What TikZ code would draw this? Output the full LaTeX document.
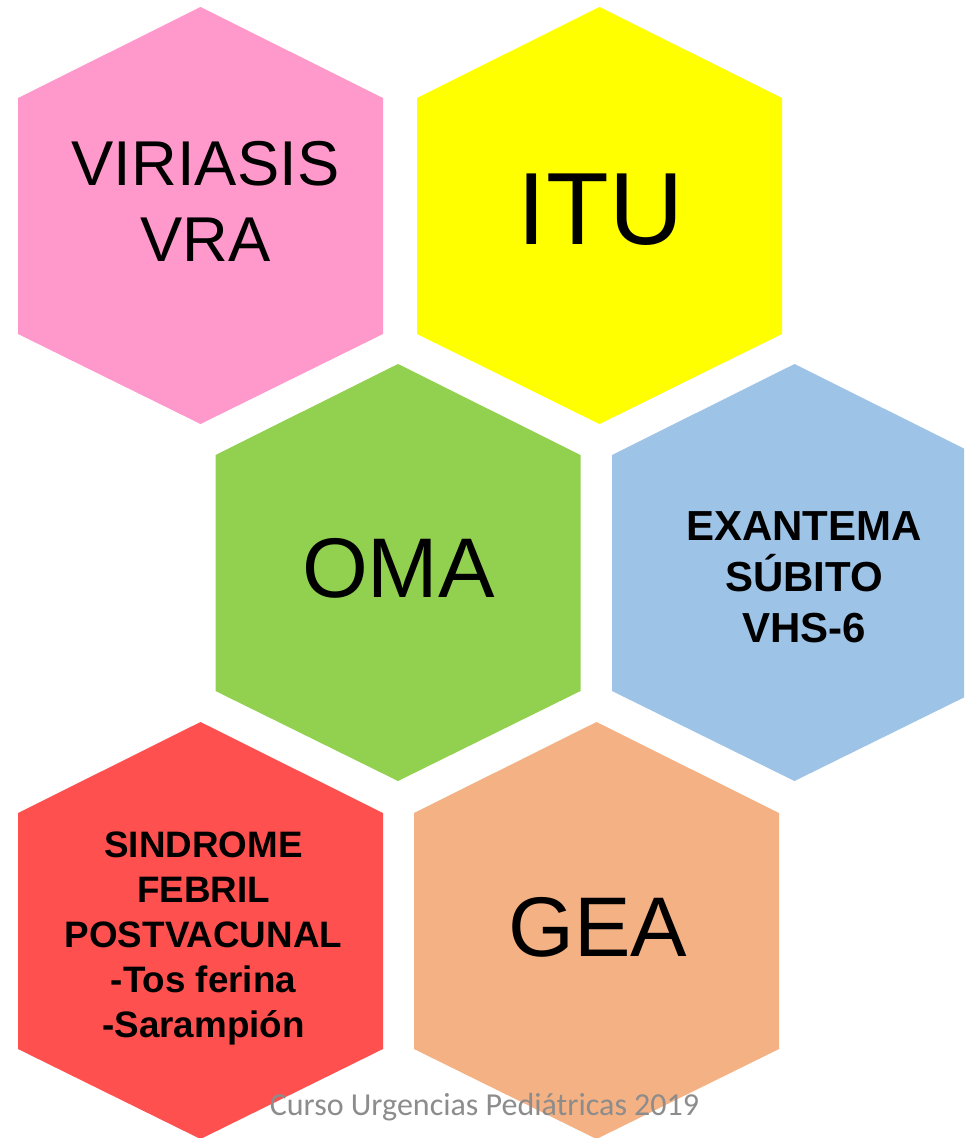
\documentclass[tikz,border=0pt]{standalone}
\usepackage{fontspec}
\setmainfont{Liberation Sans}
\newfontfamily\footfont{Carlito}
\usepackage{xcolor}
\usepackage{tikz}

\definecolor{hexpink}{HTML}{FF99CC}
\definecolor{hexyellow}{HTML}{FFFF00}
\definecolor{hexgreen}{HTML}{92D050}
\definecolor{hexblue}{HTML}{9DC3E6}
\definecolor{hexred}{HTML}{FF5050}
\definecolor{hexorange}{HTML}{F4B183}
\definecolor{footgray}{HTML}{8C8C8C}

\begin{document}
\begin{tikzpicture}[x=0.75pt, y=-0.75pt,
    hexlabel/.style={align=center, inner sep=0pt, text=black},
    plainbig/.style={hexlabel, font=\fontsize{63.5pt}{63.5pt}\selectfont}]
    \useasboundingbox (0,0) rectangle (964,1138);
    \clip (0,0) rectangle (964,1138);

    % Row 1
    \fill[hexpink] (200.5,7) -- (383,98) -- (383,334) -- (200.5,424) -- (18,334) -- (18,98) -- cycle;
    \fill[hexyellow] (599.5,7) -- (782,98) -- (782,334) -- (599.5,424) -- (417,334) -- (417,98) -- cycle;

    % Row 2
    \fill[hexgreen] (398,364) -- (580.5,455) -- (580.5,691) -- (398,781) -- (215.5,691) -- (215.5,455) -- cycle;
    \fill[hexblue] (794.5,364) -- (977,455) -- (977,691) -- (794.5,781) -- (612,691) -- (612,455) -- cycle;

    % Row 3
    \fill[hexred] (200.5,722) -- (383,813) -- (383,1049) -- (200.5,1139) -- (18,1049) -- (18,813) -- cycle;
    \fill[hexorange] (596.5,722) -- (779,813) -- (779,1049) -- (596.5,1139) -- (414,1049) -- (414,813) -- cycle;

    % Labels
    \node[hexlabel, font=\fontsize{47.5pt}{57pt}\selectfont] (viriasis) at (205.5,201) {VIRIASIS\\VRA};
    \node[hexlabel, font=\fontsize{77pt}{77pt}\selectfont] (itu) at (600.5,210) {ITU};
    \node[plainbig] (oma) at (398.5,568) {OMA};
    \node[hexlabel, font=\bfseries\fontsize{31.5pt}{38.25pt}\selectfont] (exantema) at (804,577) {EXANTEMA\\SÚBITO\\VHS-6};
    \node[hexlabel, font=\bfseries\fontsize{27.6pt}{33.75pt}\selectfont] (febril) at (203.5,938) {SINDROME\\FEBRIL\\POSTVACUNAL\\-Tos ferina\\-Sarampión};
    \node[plainbig] (gea) at (598,927) {GEA};

    % Footer
    \node[anchor=base, inner sep=0pt, text=footgray, font=\footfont\fontsize{24pt}{24pt}\selectfont] (footer) at (484.5,1115) {Curso Urgencias Pediátricas 2019};
\end{tikzpicture}
\end{document}
